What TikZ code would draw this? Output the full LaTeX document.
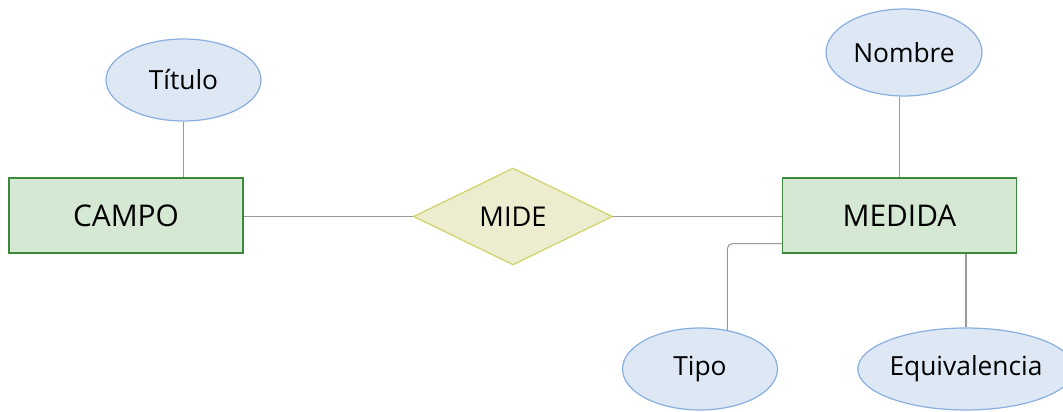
\documentclass[tikz,border=0pt]{standalone}
\usepackage{fontspec}
\setmainfont{Open Sans}
\usetikzlibrary{shapes.geometric}
\definecolor{entfill}{HTML}{D5E8D4}
\definecolor{entline}{HTML}{3B8A3B}
\definecolor{attfill}{HTML}{DEE8F5}
\definecolor{attline}{HTML}{8AB0E0}
\definecolor{relfill}{HTML}{ECECCE}
\definecolor{relline}{HTML}{D2D26A}
\definecolor{wire}{HTML}{9A9A9A}

\begin{document}
\begin{tikzpicture}[x=0.02cm, y=-0.02cm,
		entity/.style={rectangle, draw=entline, line width=0.7pt, fill=entfill,
			minimum width=4.68cm, minimum height=1.5cm,
			font=\fontsize{17}{20}\selectfont},
		attrib/.style={ellipse, draw=attline, line width=0.7pt, fill=attfill,
			inner sep=0pt, minimum width=3.1cm, minimum height=1.64cm,
			font=\fontsize{15}{18}\selectfont},
		relation/.style={diamond, draw=relline, line width=0.7pt, fill=relfill,
			inner sep=0pt, minimum width=3.98cm, minimum height=1.94cm,
			font=\fontsize{15.5}{18}\selectfont},
		link/.style={draw=wire, line width=0.6pt}
	]
		\useasboundingbox (0,0) rectangle (1063,412);
		% entidades y relacion
		\node[entity] (campo) at (126,215.5) {CAMPO};
		\node[entity] (medida) at (899.5,215.5) {MEDIDA};
		\node[relation] (mide) at (513,216.5) {MIDE};
		%
		% atributos
		\node[attrib] (titulo) at (183.5,80) {Título};
		\node[attrib, minimum width=3.12cm, minimum height=1.74cm] (nombre) at (904,52.5) {Nombre};
		\node[attrib] (tipo) at (700,369) {Tipo};
		\node[attrib, minimum width=4.2cm] (equiv) at (966,369) {Equivalencia};
		%
		% conexiones
		\draw[link] (campo.east |- mide.west) -- (mide.west);
		\draw[link] (mide.east) -- (mide.east -| medida.west);
		\draw[link] (titulo.south) -- (titulo.south |- campo.north);
		\draw[link] (medida.north) -- (medida.north |- nombre.south);
		\draw[link, rounded corners=3pt] ([yshift=0.2cm]medida.south west) -| (tipo.55);
		\draw[link] (medida.south -| equiv.north) -- (equiv.north);
	\end{tikzpicture}
\end{document}
